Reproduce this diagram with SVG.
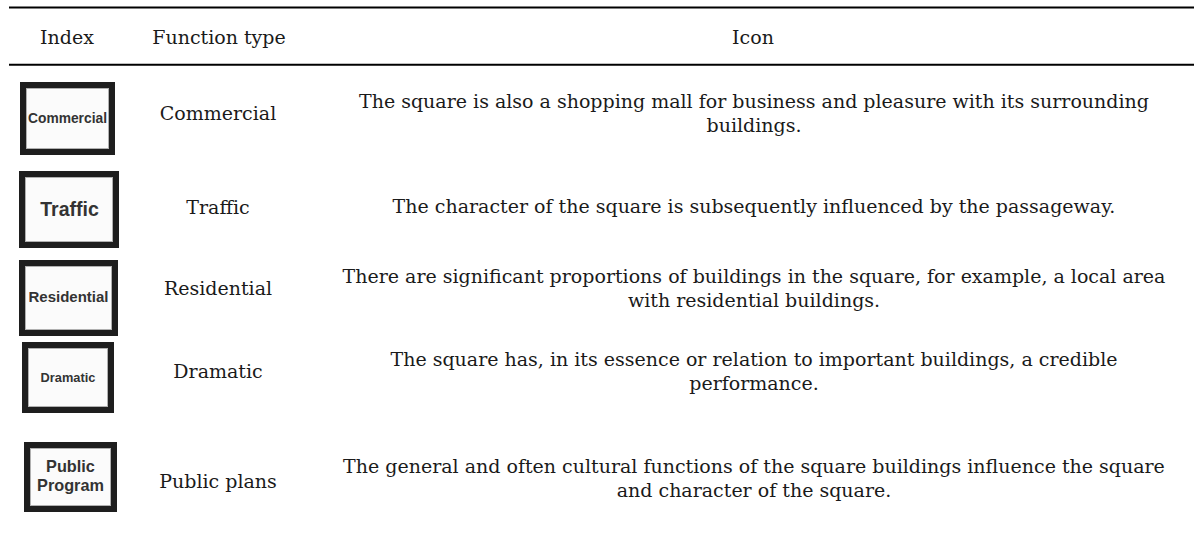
<svg xmlns="http://www.w3.org/2000/svg" width="1194" height="538" viewBox="0 0 1194 538">
<style>
.t{font-family:"DejaVu Serif","Liberation Serif",serif;font-size:19px;fill:#1a1a1a;text-anchor:middle}
.ib{fill:#fbfbfb;stroke:#1e1e1e;stroke-width:6}
.in{fill:none;stroke:#b0b0b0;stroke-width:1}
.il{font-family:"Liberation Sans",Arial,sans-serif;font-weight:bold;fill:#333;text-anchor:middle}
.rule{stroke:#000;stroke-width:2}
</style>
<rect width="1194" height="538" fill="#fff"/>
<g id="rules">
<line class="rule" x1="9" y1="7.5" x2="1194" y2="7.5"/>
<line class="rule" x1="9" y1="64.8" x2="1194" y2="64.8"/>
</g>
<g id="header">
<text class="t" x="67" y="44">Index</text>
<text class="t" x="219" y="44">Function type</text>
<text class="t" x="753" y="44">Icon</text>
</g>
<g id="row-commercial">
<rect class="ib" x="23" y="85" width="89" height="67"/>
<rect class="in" x="26.5" y="88.5" width="82" height="60"/>
<text class="il" x="67.5" y="123" font-size="13.8">Commercial</text>
<text class="t" x="218" y="120">Commercial</text>
<text class="t" x="754" y="108">The square is also a shopping mall for business and pleasure with its surrounding</text>
<text class="t" x="754" y="132">buildings.</text>
</g>
<g id="row-traffic">
<rect class="ib" x="22" y="174" width="94" height="71"/>
<rect class="in" x="25.5" y="177.5" width="87" height="64"/>
<text class="il" x="69.5" y="216" font-size="19.5">Traffic</text>
<text class="t" x="218" y="214">Traffic</text>
<text class="t" x="754" y="213">The character of the square is subsequently influenced by the passageway.</text>
</g>
<g id="row-residential">
<rect class="ib" x="22" y="263" width="93" height="70"/>
<rect class="in" x="25.5" y="266.5" width="86" height="63"/>
<text class="il" x="68.5" y="302" font-size="15">Residential</text>
<text class="t" x="218" y="295">Residential</text>
<text class="t" x="754" y="283">There are significant proportions of buildings in the square, for example, a local area</text>
<text class="t" x="754" y="307">with residential buildings.</text>
</g>
<g id="row-dramatic">
<rect class="ib" x="25" y="345" width="86" height="65"/>
<rect class="in" x="28.5" y="348.5" width="79" height="58"/>
<text class="il" x="68" y="382" font-size="12.8">Dramatic</text>
<text class="t" x="218" y="378">Dramatic</text>
<text class="t" x="754" y="366">The square has, in its essence or relation to important buildings, a credible</text>
<text class="t" x="754" y="390">performance.</text>
</g>
<g id="row-public">
<rect class="ib" x="27" y="445" width="87" height="64"/>
<rect class="in" x="30.5" y="448.5" width="80" height="57"/>
<text class="il" x="70.5" y="472" font-size="16.3">Public</text>
<text class="il" x="70.5" y="491" font-size="16.3">Program</text>
<text class="t" x="218" y="488">Public plans</text>
<text class="t" x="754" y="473">The general and often cultural functions of the square buildings influence the square</text>
<text class="t" x="754" y="497">and character of the square.</text>
</g>
<g id="connectors"/>
</svg>
